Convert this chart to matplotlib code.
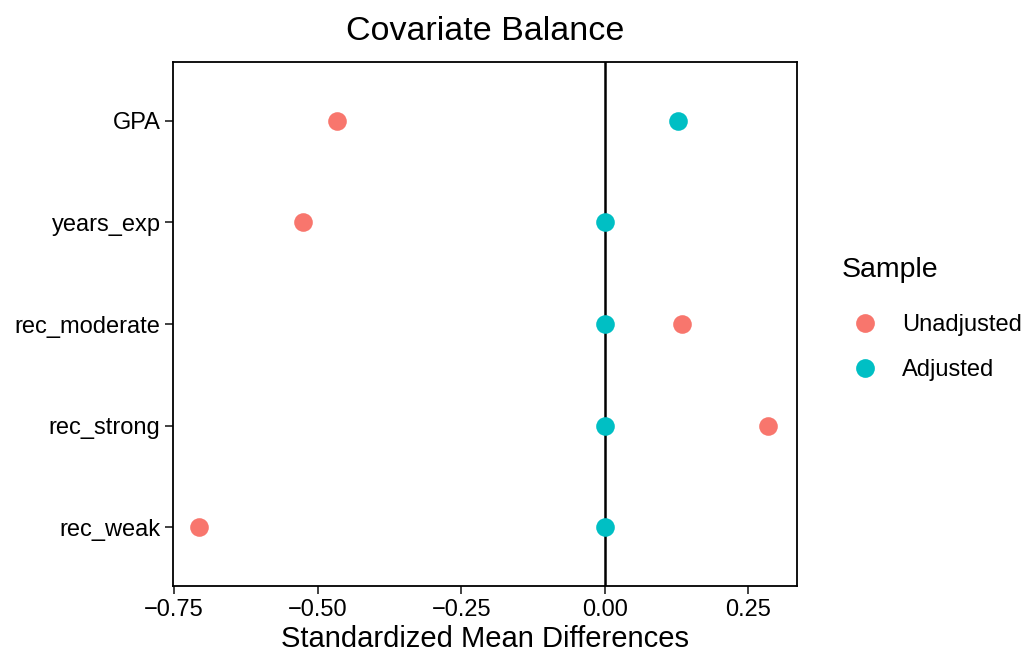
import matplotlib
matplotlib.use("Agg")
import matplotlib.pyplot as plt
from matplotlib.lines import Line2D

plt.rcParams['font.family'] = ['Liberation Sans', 'DejaVu Sans']

# --- data ---
covariates = ["rec_weak", "rec_strong", "rec_moderate", "years_exp", "GPA"]
unadjusted = [-0.706, 0.284, 0.134, -0.526, -0.467]
adjusted = [0.0, 0.0, 0.0, 0.0, 0.127]
xticks = [-0.75, -0.50, -0.25, 0.00, 0.25]
xtick_labels = ["\u22120.75", "\u22120.50", "\u22120.25", "0.00", "0.25"]
sample_names = ["Unadjusted", "Adjusted"]

col_unadj = "#F8766D"
col_adj = "#00BFC4"

fig = plt.figure(figsize=(10.26, 6.53), dpi=100)
ax = fig.add_axes([173 / 1026, 1 - 586 / 653, (797 - 173) / 1026, (586 - 62) / 653])

ypos = list(range(1, len(covariates) + 1))
ax.axvline(0, color="black", lw=1.8, zorder=1)
ax.scatter(unadjusted, ypos, s=180, color=col_unadj, zorder=3, linewidths=0)
ax.scatter(adjusted, ypos, s=180, color=col_adj, zorder=3, linewidths=0)

ax.set_xlim(-0.752, 0.3345)
ax.set_ylim(0.42, 5.58)
ax.set_yticks(ypos)
ax.set_yticklabels(covariates)
ax.set_xticks(xticks)
ax.set_xticklabels(xtick_labels)
ax.tick_params(axis="both", labelsize=17, colors="#333333", labelcolor="black",
               length=6, width=1.3, direction="out", pad=3)
for sp in ax.spines.values():
    sp.set_linewidth(1.3)
    sp.set_color("black")

ax.set_xlabel("Standardized Mean Differences", fontsize=21, labelpad=3)
ax.set_title("Covariate Balance", fontsize=24.5, pad=16)

# legend: title as separate text, items below
fig.text(842 / 1026, 1 - 270 / 653, "Sample", fontsize=20.5, ha="left", va="center")
handles = [
    Line2D([], [], marker="o", ls="", markersize=13.5, color=col_unadj, markeredgewidth=0),
    Line2D([], [], marker="o", ls="", markersize=13.5, color=col_adj, markeredgewidth=0),
]
leg = fig.legend(handles, sample_names,
                 loc="center left", bbox_to_anchor=(841 / 1026, 1 - 347.5 / 653),
                 frameon=False, fontsize=17, handlelength=2.0,
                 handletextpad=0.57, labelspacing=0.98, borderaxespad=0,
                 borderpad=0)

fig.savefig("out.png", dpi=100)
